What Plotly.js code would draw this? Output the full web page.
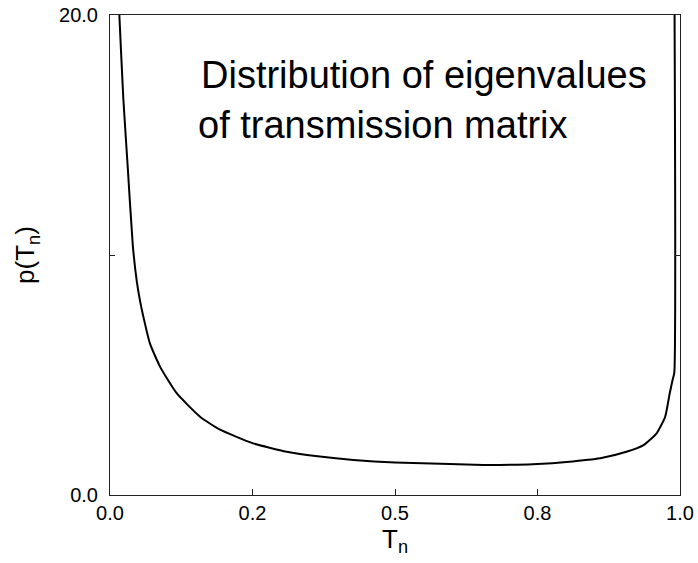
<!DOCTYPE html>
<html>
<head>
<meta charset="utf-8">
<script src="https://cdn.plot.ly/plotly-3.0.1.min.js"></script>
<style>html,body{margin:0;padding:0;background:#fff;}#chart{width:698px;height:563px;}</style>
</head>
<body>
<div id="chart"></div>
<script>
// Transmission eigenvalue T_n and density p(T_n)
var T = [0.0145, 0.0164, 0.0234, 0.031, 0.040, 0.047, 0.0526, 0.0585, 0.070, 0.0877, 0.117, 0.158, 0.193, 0.25, 0.31, 0.368, 0.427, 0.50, 0.596, 0.655, 0.714, 0.75, 0.801, 0.86, 0.906, 0.936, 0.959, 0.974, 0.982, 0.987, 0.990, 0.9903];
var P = [21.0, 20.0, 16.5, 13.7, 10.4, 8.9, 8.1, 7.43, 6.32, 5.35, 4.24, 3.26, 2.72, 2.16, 1.80, 1.60, 1.46, 1.35, 1.29, 1.25, 1.26, 1.29, 1.375, 1.53, 1.80, 2.08, 2.57, 3.26, 4.24, 4.79, 5.1, 21.0];

var xTickVals = [0, 0.25, 0.5, 0.75, 1.0];
var xTickText = ['0.0', '0.2', '0.5', '0.8', '1.0'];
var yTickVals = [0, 10, 20];
var yTickText = ['0.0', '', '20.0'];
var noteLines = ['Distribution of eigenvalues', 'of transmission matrix'];

var W = 698, H = 563;
var L = 110, R = 18, Tm = 15, B = 68;
var pw = W - L - R, ph = H - Tm - B;
function px(x){ return (x - L) / pw; }
function py(y){ return (H - B - y) / ph; }

var font = 'Liberation Sans, Arial, Helvetica, sans-serif';

var data = [{
  x: T, y: P, type: 'scatter', mode: 'lines',
  line: {color: '#000', width: 2, shape: 'spline', smoothing: 0.5},
  hoverinfo: 'skip'
}];

var layout = {
  width: W, height: H,
  margin: {l: L, r: R, t: Tm, b: B, pad: 0},
  paper_bgcolor: '#fff', plot_bgcolor: '#fff',
  showlegend: false,
  font: {family: font, color: '#000'},
  xaxis: {
    range: [0, 1], tickmode: 'array', tickvals: xTickVals, ticktext: xTickText,
    ticks: 'inside', ticklen: 6, tickcolor: '#222', tickwidth: 1,
    showline: true, linecolor: '#222', linewidth: 1, mirror: true,
    showgrid: false, zeroline: false,
    tickfont: {family: font, size: 20, color: '#000'},
    title: {text: 'T<sub>n</sub>', font: {family: font, size: 26, color: '#000'}, standoff: 2}
  },
  yaxis: {
    range: [0, 20], tickmode: 'array', tickvals: yTickVals, ticktext: yTickText,
    ticks: 'inside', ticklen: 5, tickcolor: '#222', tickwidth: 1,
    showline: true, linecolor: '#222', linewidth: 1, mirror: 'ticks',
    showgrid: false, zeroline: false, ticklabelstandoff: 7,
    tickfont: {family: font, size: 20, color: '#000'},
    title: {text: 'p(T<sub>n</sub>)', font: {family: font, size: 26, color: '#000'}, standoff: 16}
  },
  annotations: [
    {xref: 'paper', yref: 'paper', x: px(199), y: py(75), xanchor: 'left', yanchor: 'middle',
     text: noteLines[0], showarrow: false, font: {family: font, size: 38, color: '#000'}},
    {xref: 'paper', yref: 'paper', x: px(196), y: py(125), xanchor: 'left', yanchor: 'middle',
     text: noteLines[1], showarrow: false, font: {family: font, size: 38, color: '#000'}}
  ]
};

Plotly.newPlot('chart', data, layout, {displayModeBar: false, staticPlot: true});
</script>
</body>
</html>
